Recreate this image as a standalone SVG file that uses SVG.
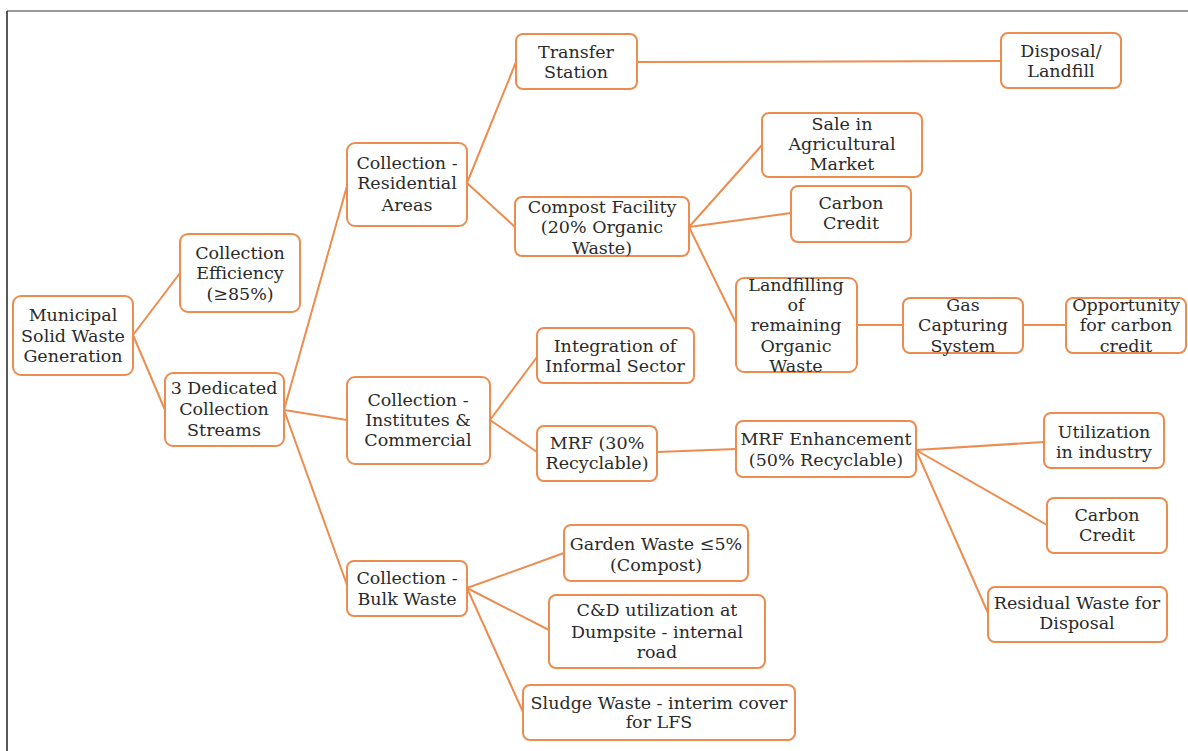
<svg xmlns="http://www.w3.org/2000/svg" width="1188" height="751" viewBox="0 0 1188 751">
<style>
.n rect{fill:#fff;stroke:#EC8C4F;stroke-width:2;}
.n text{font-family:"DejaVu Serif","Liberation Serif",serif;font-size:17.5px;fill:#2a2a2a;text-anchor:middle;}
#edges line{stroke:#EC8C4F;stroke-width:2;}
</style>
<rect width="1188" height="751" fill="#fff"/>
<line x1="7" y1="11" x2="1188" y2="11" stroke="#777" stroke-width="1.5"/>
<line x1="7" y1="11" x2="7" y2="751" stroke="#222" stroke-width="1.5"/>
<g id="edges">
<line x1="133" y1="335" x2="180" y2="273"/>
<line x1="133" y1="335" x2="165" y2="410"/>
<line x1="284" y1="410" x2="347" y2="186"/>
<line x1="284" y1="410" x2="347" y2="420"/>
<line x1="284" y1="410" x2="347" y2="585"/>
<line x1="467" y1="183" x2="516" y2="62"/>
<line x1="467" y1="183" x2="515" y2="227"/>
<line x1="637" y1="62" x2="1001" y2="61"/>
<line x1="689" y1="227" x2="762" y2="145"/>
<line x1="689" y1="227" x2="791" y2="213"/>
<line x1="689" y1="227" x2="736" y2="323"/>
<line x1="857" y1="325" x2="903" y2="325"/>
<line x1="1023" y1="325" x2="1066" y2="325"/>
<line x1="490" y1="420" x2="537" y2="357"/>
<line x1="490" y1="420" x2="537" y2="452"/>
<line x1="657" y1="452" x2="736" y2="449"/>
<line x1="916" y1="450" x2="1044" y2="442"/>
<line x1="916" y1="450" x2="1047" y2="525"/>
<line x1="916" y1="450" x2="988" y2="613"/>
<line x1="467" y1="588" x2="564" y2="553"/>
<line x1="467" y1="588" x2="549" y2="630"/>
<line x1="467" y1="588" x2="523" y2="712"/>
</g>
<g id="msw" class="n"><rect x="13" y="296" width="120" height="79" rx="8"/><text x="73" y="321">Municipal</text><text x="73" y="342">Solid Waste</text><text x="73" y="362">Generation</text></g>
<g id="efficiency" class="n"><rect x="180" y="234" width="120" height="78" rx="8"/><text x="240" y="259">Collection</text><text x="240" y="279">Efficiency</text><text x="240" y="300">(≥85%)</text></g>
<g id="streams" class="n"><rect x="165" y="373" width="119" height="73" rx="8"/><text x="224" y="394">3 Dedicated</text><text x="224" y="415">Collection</text><text x="224" y="436">Streams</text></g>
<g id="residential" class="n"><rect x="347" y="143" width="120" height="83" rx="8"/><text x="407" y="169">Collection -</text><text x="407" y="189">Residential</text><text x="407" y="211">Areas</text></g>
<g id="transfer" class="n"><rect x="516" y="34" width="121" height="55" rx="7"/><text x="576" y="58">Transfer</text><text x="576" y="78">Station</text></g>
<g id="disposal" class="n"><rect x="1001" y="33" width="120" height="55" rx="7"/><text x="1061" y="57">Disposal/</text><text x="1061" y="77">Landfill</text></g>
<g id="compost" class="n"><rect x="515" y="197" width="174" height="59" rx="7"/><text x="602" y="213">Compost Facility</text><text x="602" y="233">(20% Organic</text><text x="602" y="254">Waste)</text></g>
<g id="sale" class="n"><rect x="762" y="113" width="160" height="64" rx="7"/><text x="842" y="130">Sale in</text><text x="842" y="150">Agricultural</text><text x="842" y="170">Market</text></g>
<g id="carbon1" class="n"><rect x="791" y="186" width="120" height="56" rx="7"/><text x="851" y="209">Carbon</text><text x="851" y="229">Credit</text></g>
<g id="landfilling" class="n"><rect x="736" y="278" width="121" height="94" rx="8"/><text x="796" y="291">Landfilling</text><text x="796" y="311">of</text><text x="796" y="331">remaining</text><text x="796" y="352">Organic</text><text x="796" y="372">Waste</text></g>
<g id="gas" class="n"><rect x="903" y="298" width="120" height="55" rx="7"/><text x="963" y="311">Gas</text><text x="963" y="331">Capturing</text><text x="963" y="352">System</text></g>
<g id="opportunity" class="n"><rect x="1066" y="298" width="120" height="55" rx="7"/><text x="1126" y="311">Opportunity</text><text x="1126" y="331">for carbon</text><text x="1126" y="352">credit</text></g>
<g id="institutes" class="n"><rect x="347" y="377" width="143" height="87" rx="8"/><text x="418" y="406">Collection -</text><text x="418" y="426">Institutes &amp;</text><text x="418" y="446">Commercial</text></g>
<g id="informal" class="n"><rect x="537" y="328" width="157" height="55" rx="7"/><text x="615" y="352">Integration of</text><text x="615" y="372">Informal Sector</text></g>
<g id="mrf30" class="n"><rect x="537" y="426" width="120" height="55" rx="7"/><text x="597" y="449">MRF (30%</text><text x="597" y="469">Recyclable)</text></g>
<g id="mrf50" class="n"><rect x="736" y="421" width="180" height="56" rx="7"/><text x="826" y="445">MRF Enhancement</text><text x="826" y="466">(50% Recyclable)</text></g>
<g id="industry" class="n"><rect x="1044" y="413" width="120" height="55" rx="7"/><text x="1104" y="438">Utilization</text><text x="1104" y="458">in industry</text></g>
<g id="carbon2" class="n"><rect x="1047" y="498" width="120" height="55" rx="7"/><text x="1107" y="521">Carbon</text><text x="1107" y="541">Credit</text></g>
<g id="residual" class="n"><rect x="988" y="587" width="179" height="55" rx="7"/><text x="1077" y="609">Residual Waste for</text><text x="1077" y="629">Disposal</text></g>
<g id="bulk" class="n"><rect x="347" y="561" width="120" height="55" rx="7"/><text x="407" y="584">Collection -</text><text x="407" y="605">Bulk Waste</text></g>
<g id="garden" class="n"><rect x="564" y="525" width="184" height="56" rx="7"/><text x="656" y="550">Garden Waste ≤5%</text><text x="656" y="571">(Compost)</text></g>
<g id="cd" class="n"><rect x="549" y="595" width="216" height="73" rx="7"/><text x="657" y="616">C&amp;D utilization at</text><text x="657" y="638">Dumpsite - internal</text><text x="657" y="658">road</text></g>
<g id="sludge" class="n"><rect x="523" y="685" width="272" height="55" rx="7"/><text x="659" y="709">Sludge Waste - interim cover</text><text x="659" y="728">for LFS</text></g>
</svg>
